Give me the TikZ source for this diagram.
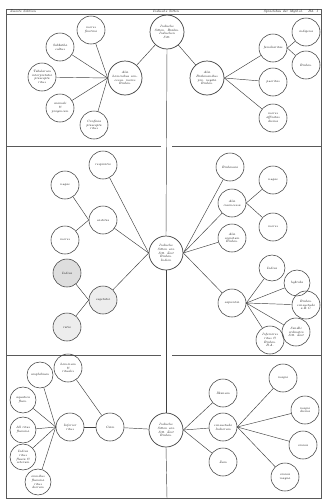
\documentclass[tikz,border=0pt]{standalone}
\begin{document}
\begin{tikzpicture}[x=1pt,y=-1pt,
  circ/.style={circle,draw=black!75,line width=0.55pt,minimum size=28pt,inner sep=0pt,align=center,font=\fontsize{3.2}{3.8}\selectfont\itshape},
  hub/.style={circ,minimum size=34pt,line width=0.7pt},
  shade/.style={fill=black!13},
  lshade/.style={fill=black!7},
  con/.style={draw=black!75,line width=0.45pt},
  frame/.style={draw=black!65,line width=0.8pt},
  head/.style={font=\fontsize{3.4}{4}\selectfont\itshape,inner sep=0pt}]
\useasboundingbox (0,0) rectangle (327,501);
% frame and header
\draw[frame] (6,9) -- (321,9);
\draw[frame] (6,14.5) -- (321,14.5);
\draw[frame] (6,9) -- (6,498) -- (321,498) -- (321,9);
\node[head,anchor=west] (hl) at (10,11.8) {Zweite Sektion};
\node[head] (hc) at (166,11.8) {Indische Sitten};
\node[head,anchor=east] (hr) at (318,11.8) {Sprachbau der Mythol. \quad Bd. I};
\draw[frame] (6,146) -- (161,146);
\draw[frame] (172,146) -- (321,146);
\draw[frame] (6,355) -- (161,355);
\draw[frame] (172,355) -- (321,355);

% top section
\node[hub] (T) at (167,32) {Indische\\Sitten. Brahm.\\Indischen\\Sitt.};
\node[hub] (L1) at (125,78) {Alia\\hominibus con-\\cessa. mores\\Brahm.};
\node[hub] (R1) at (207,78) {Alia\\Brahmanibus\\pro. negata\\Brahm.};
\node[circ] (a1) at (91,30) {mores\\finitimi};
\node[circ] (a2) at (60,47) {Sabbatha\\cultus};
\node[circ] (a3) at (42,77) {Tabularum\\interpretatio\\praecepta\\ritus};
\node[circ] (a4) at (60,108) {animali\\\&\\progeniem};
\node[circ] (a5) at (94,125) {Confinia\\praecepta\\ritus};
\node[circ] (b1) at (273,48) {familiaritas};
\node[circ] (b2) at (273,82) {pueritas};
\node[circ] (b3) at (273,118) {mores\\affinitas\\divina};
\node[circ] (b4) at (306,32) {indigena};
\node[circ] (b5) at (306,65) {Brahm.};
\draw[con] (L1) -- (T);
\draw[con] (R1) -- (T);
\foreach \n in {a1,a2,a3,a4,a5} \draw[con] (L1.west) -- (\n);
\foreach \n in {b1,b2,b3} \draw[con] (R1.east) -- (\n);
\foreach \n in {b4,b5} \draw[con] (b1.east) -- (\n);

% middle section
\node[hub] (M) at (166,253) {Indische\\Sitten von\\Sitt. Zeit\\Brahm.\\Indien};
\node[circ] (c1) at (103,165) {respiratio};
\node[circ] (c2) at (103,220) {castitas};
\node[circ,lshade] (c3) at (103,300) {vegetatio};
\node[circ] (d1) at (65,185) {nugae};
\node[circ] (d2) at (65,240) {mores};
\node[circ,shade] (d3) at (67,273) {Indica};
\node[circ,lshade] (d4) at (67,327) {ratio};
\foreach \n in {c1,c2,c3} \draw[con] (M.west) -- (\n);
\foreach \n in {d1,d2} \draw[con] (c2.west) -- (\n);
\foreach \n in {d3,d4} \draw[con] (c3.west) -- (\n);
\node[circ] (e1) at (230,167) {Brahmani};
\node[circ] (e2) at (232,203) {Alia\\inconcessa};
\node[circ] (e3) at (232,238) {Alia\\cognitum\\Brahm.};
\node[circ] (e4) at (232,303) {sapientia};
\node[circ] (f1) at (273,180) {nugae};
\node[circ] (f2) at (273,227) {mores};
\node[circ,minimum size=26pt] (g1) at (272,268) {Indica};
\node[circ,minimum size=26pt] (g2) at (297,283) {hybrida};
\node[circ] (g3) at (306,305) {Brahm.\\consuetudo\\a.B.C.};
\node[circ] (g4) at (296,332) {Sandhi\\ordinatio\\Sitt. Zeit};
\node[circ] (g5) at (270,340) {Inferiores\\ritus \&\\Brahm.\\B.A.};
\foreach \n in {e1,e2,e3,e4} \draw[con] (M.east) -- (\n);
\foreach \n in {f1,f2} \draw[con] (e2.east) -- (\n);
\foreach \n in {g1,g2,g3,g4,g5} \draw[con] (e4.east) -- (\n);

% bottom section
\node[hub] (B) at (166,430) {Indische\\Sitten von\\Sitt. Zeit\\Brahm.};
\node[circ] (h1) at (110,427) {Ciam};
\node[circ] (h0) at (70,427) {Inferior\\ritus};
\node[circ] (h2) at (68,368) {hominum\\\&\\ritualis};
\node[circ,minimum size=26pt] (i1) at (40,375) {amphibium};
\node[circ,minimum size=26pt] (i2) at (23,400) {aquatica\\flum.};
\node[circ,minimum size=26pt] (i3) at (23,430) {All ritus\\flumina};
\node[circ,minimum size=26pt] (i4) at (23,457) {Indica\\ritus\\fluvia \&\\ceterum};
\node[circ,minimum size=26pt] (i5) at (38,482) {omnibus\\flumina\\ritus\\dierum};
\draw[con] (B) -- (h1);
\draw[con] (h1) -- (h0);
\draw[con] (h2) -- (h1);
\foreach \n in {i1,i2,i3,i4,i5} \draw[con] (h0.west) -- (\n);
\node[circ] (j1) at (223,393) {Ilkanum};
\node[circ] (j2) at (223,427) {consuetudo\\Indiorum};
\node[circ] (j3) at (223,462) {Zum};
\node[circ] (k1) at (283,378) {magni};
\node[circ] (k2) at (305,410) {magni\\divina};
\node[circ] (k3) at (303,445) {omnia};
\node[circ] (k4) at (285,477) {omnia\\magna};
\foreach \n in {j1,j2,j3} \draw[con] (B.east) -- (\n);
\foreach \n in {k1,k2,k3,k4} \draw[con] (j2.east) -- (\n);

% central vertical line
\coordinate (bot) at (167,498);
\draw[con] (T.south) -- (M.north);
\draw[con] (M.south) -- (B.north);
\draw[con] (B.south) -- (bot);
\end{tikzpicture}
\end{document}
